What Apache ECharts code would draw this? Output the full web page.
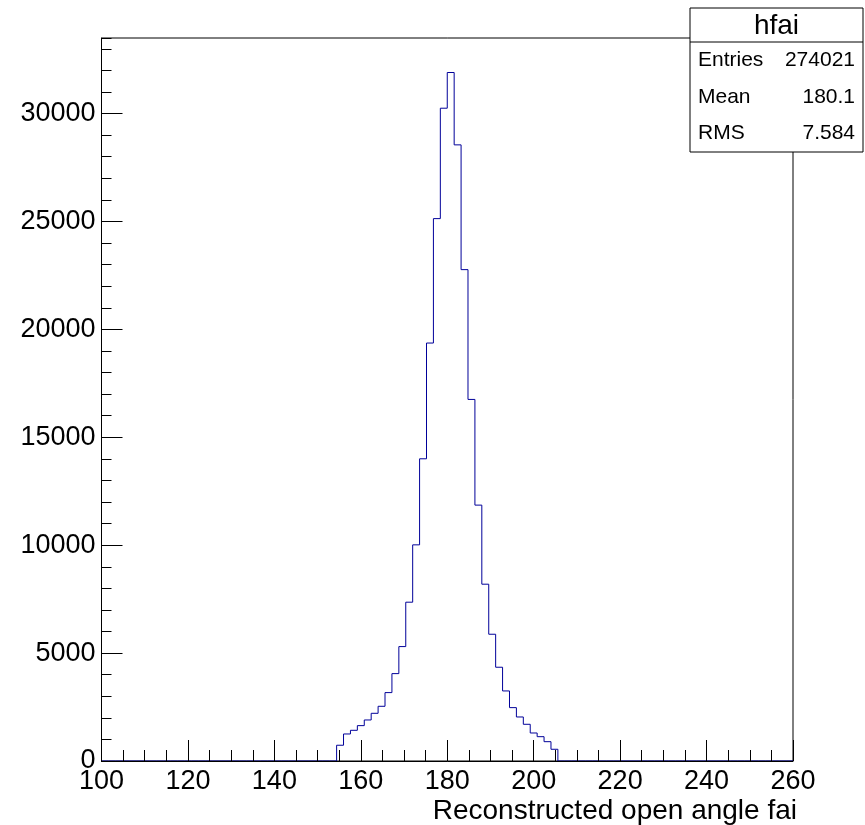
<!DOCTYPE html>
<html>
<head>
<meta charset="utf-8">
<script src="https://cdn.jsdelivr.net/npm/echarts@6/dist/echarts.min.js"></script>
<style>
html,body{margin:0;padding:0;background:#fff;}
#c{width:865px;height:825px;}
</style>
</head>
<body>
<div id="c"></div>
<script>
// Histogram definition
const xMin = 100;
const xMax = 260;
const nBins = 100;
// Bin contents (100 bins from 100 to 260)
const counts = [
  0,0,0,0,0,0,0,0,0,0,
  0,0,0,0,0,0,0,0,0,0,
  0,0,0,0,0,0,0,0,0,0,
  0,0,0,0,730,1252,1422,1639,1901,2210,
  2535,3169,4049,5301,7358,10015,14003,19366,25131,30247,
  31901,28548,22767,16753,11856,8192,5873,4344,3246,2473,
  2040,1701,1298,1127,895,543,0,0,0,0,
  0,0,0,0,0,0,0,0,0,0,
  0,0,0,0,0,0,0,0,0,0,
  0,0,0,0,0,0,0,0,0,0
];
const xTicks = [100,120,140,160,180,200,220,240,260];
const yTicks = [0,5000,10000,15000,20000,25000,30000];
const yMax = 33500;
const histName = 'hfai';
const statLabels = ['Entries','Mean','RMS'];
const statValues = ['274021','180.1','7.584'];
const xTitle = 'Reconstructed open angle fai';

const binW = (xMax - xMin) / nBins;
const stepData = counts.map((c, i) => [xMin + i * binW, c]);
stepData.push([xMax, 0]);

const FONT = 'Liberation Sans, Arial, Helvetica, sans-serif';
const chart = echarts.init(document.getElementById('c'), null, {renderer: 'canvas'});

const boxL = 690, boxT = 8, boxR = 863, boxB = 152, sep = 42;
const rowH = (boxB - sep) / statLabels.length;
const statGraphics = [
  {type: 'rect', shape: {x: boxL, y: boxT, width: boxR - boxL, height: boxB - boxT},
   style: {fill: '#fff', stroke: '#000', lineWidth: 1}, z: 100},
  {type: 'line', shape: {x1: boxL, y1: sep, x2: boxR, y2: sep},
   style: {stroke: '#000', lineWidth: 1}, z: 101},
  {type: 'text', x: (boxL + boxR) / 2, y: (boxT + sep) / 2 + 1, z: 101,
   style: {text: histName, font: '28px ' + FONT, fill: '#000', align: 'center', verticalAlign: 'middle'}}
];
statLabels.forEach((lab, i) => {
  const cy = sep + rowH * (i + 0.5);
  statGraphics.push({type: 'text', x: 698, y: cy, z: 101,
    style: {text: lab, font: '21px ' + FONT, fill: '#000', align: 'left', verticalAlign: 'middle'}});
  statGraphics.push({type: 'text', x: 855, y: cy, z: 101,
    style: {text: statValues[i], font: '21px ' + FONT, fill: '#000', align: 'right', verticalAlign: 'middle'}});
});

chart.setOption({
  animation: false,
  backgroundColor: '#fff',
  grid: {left: 101.5, right: 72, top: 38, bottom: 64, show: true, borderColor: '#000', borderWidth: 1, backgroundColor: 'transparent'},
  xAxis: {
    type: 'value', min: xMin, max: xMax, interval: 20, z: 5,
    axisLine: {show: true, onZero: false, lineStyle: {color: '#000', width: 1}},
    axisTick: {show: true, inside: true, length: 21, lineStyle: {color: '#000'}},
    minorTick: {show: true, splitNumber: 4, length: 11, lineStyle: {color: '#000'}},
    splitLine: {show: false},
    axisLabel: {show: true, margin: 7, fontSize: 27, fontFamily: FONT, color: '#000',
      formatter: v => xTicks.includes(v) ? String(v) : ''}
  },
  yAxis: [
    {
      type: 'value', min: 0, max: yMax, interval: 5000, position: 'left', z: 5,
      axisLine: {show: true, onZero: false, lineStyle: {color: '#000', width: 1}},
      axisTick: {show: true, inside: true, length: 21, lineStyle: {color: '#000'}},
      splitLine: {show: false},
      axisLabel: {show: true, margin: 6, fontSize: 27, fontFamily: FONT, color: '#000',
        showMaxLabel: false,
        formatter: v => yTicks.includes(v) ? String(v) : ''}
    },
    {
      type: 'value', min: 0, max: yMax, interval: 1000, position: 'left', z: 5,
      axisLine: {show: false},
      axisTick: {show: true, inside: true, length: 10, lineStyle: {color: '#000'}},
      splitLine: {show: false},
      axisLabel: {show: false}
    }
  ],
  series: [{
    type: 'line', step: 'end', data: stepData, yAxisIndex: 0, z: 2,
    symbol: 'none', showSymbol: false,
    lineStyle: {color: '#000099', width: 1},
    clip: false
  }],
  graphic: [
    {type: 'text', x: 797, y: 811, z: 50,
     style: {text: xTitle, font: '28px ' + FONT, fill: '#000', align: 'right', verticalAlign: 'middle'}}
  ].concat(statGraphics)
});
</script>
</body>
</html>
